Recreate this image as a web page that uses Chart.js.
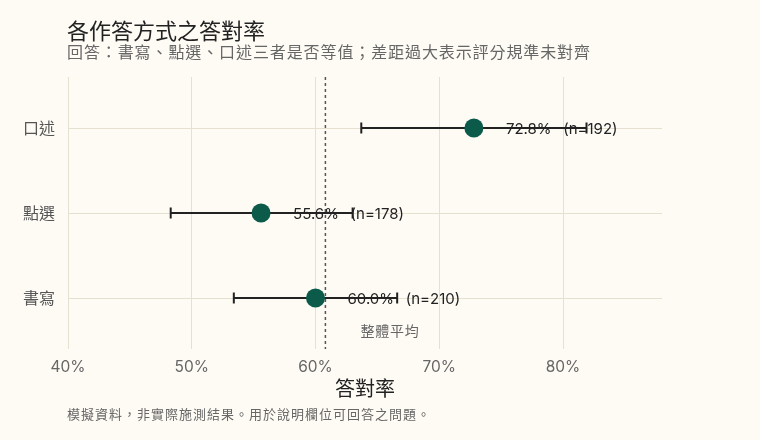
<!doctype html>
<html>
    <head>
        <meta charset="utf-8" />
        <title>各作答方式之答對率</title>
        <script src="https://cdn.jsdelivr.net/npm/chart.js"></script>
        <style>
            html,
            body {
                margin: 0;
                padding: 0;
                background: #fdfbf4;
            }
            .wrap {
                position: relative;
                width: 760px;
                height: 440px;
                font-family: Inter, "Noto Sans CJK TC", sans-serif;
            }
            .title {
                position: absolute;
                left: 67px;
                top: 13px;
                font-size: 22px;
                color: #222;
                font-family: "Noto Sans CJK TC", sans-serif;
            }
            .subtitle {
                position: absolute;
                left: 67px;
                top: 39px;
                font-size: 16px;
                letter-spacing: 0.9px;
                color: #666;
                font-family: "Noto Sans CJK TC", sans-serif;
                white-space: nowrap;
            }
            .note {
                position: absolute;
                left: 67px;
                top: 404px;
                font-size: 13px;
                letter-spacing: 1px;
                color: #666;
                font-family: "Noto Sans CJK TC", sans-serif;
                white-space: nowrap;
            }
            canvas {
                position: absolute;
                left: 0;
                top: 0;
            }
        </style>
    </head>
    <body>
        <div class="wrap">
            <canvas id="rateChart" width="760" height="440"></canvas>
            <div class="title">各作答方式之答對率</div>
            <div class="subtitle">回答：書寫、點選、口述三者是否等值；差距過大表示評分規準未對齊</div>
            <div class="note">模擬資料，非實際施測結果。用於說明欄位可回答之問題。</div>
        </div>
        <script>
            // categories top to bottom
            const categories = ["口述", "點選", "書寫"];
            const rates = [72.8, 55.6, 60.0];
            const lows = [63.7, 48.3, 53.4];
            const highs = [81.9, 63.0, 66.6];
            const counts = [192, 178, 210];
            const overallAvg = 60.8;
            const xTicks = [40, 50, 60, 70, 80];

            const FONT = 'Inter, "Noto Sans CJK TC", sans-serif';
            const CJK = '"Noto Sans CJK TC", sans-serif';

            // error bars, value labels and the average line
            const extras = {
                id: "extras",
                beforeDatasetsDraw(chart) {
                    const { ctx, chartArea } = chart;
                    const xs = chart.scales.x;
                    const ys = chart.scales.y;
                    ctx.save();

                    // overall average (dotted)
                    const ax = xs.getPixelForValue(overallAvg);
                    ctx.strokeStyle = "#555";
                    ctx.lineWidth = 1.5;
                    ctx.setLineDash([3, 3]);
                    ctx.beginPath();
                    ctx.moveTo(ax, chartArea.top);
                    ctx.lineTo(ax, chartArea.bottom);
                    ctx.stroke();
                    ctx.setLineDash([]);
                    ctx.fillStyle = "#666";
                    ctx.font = "14px " + CJK;
                    ctx.letterSpacing = "0.8px";
                    ctx.textAlign = "left";
                    ctx.textBaseline = "middle";
                    ctx.fillText("整體平均", ax + 35, ys.getPixelForValue(2.39));
                    ctx.letterSpacing = "0px";

                    // value labels
                    ctx.fillStyle = "#222";
                    ctx.font = "15px " + FONT;
                    categories.forEach((c, i) => {
                        const px = xs.getPixelForValue(rates[i]);
                        const py = ys.getPixelForValue(i);
                        ctx.fillText(
                            rates[i].toFixed(1) + "%\u2002 (n=" + counts[i] + ")",
                            px + 32,
                            py + 1,
                        );
                    });

                    // error bars
                    ctx.strokeStyle = "#222";
                    ctx.lineWidth = 2;
                    categories.forEach((c, i) => {
                        const x1 = xs.getPixelForValue(lows[i]);
                        const x2 = xs.getPixelForValue(highs[i]);
                        const py = ys.getPixelForValue(i);
                        ctx.beginPath();
                        ctx.moveTo(x1, py);
                        ctx.lineTo(x2, py);
                        ctx.moveTo(x1, py - 5.5);
                        ctx.lineTo(x1, py + 5.5);
                        ctx.moveTo(x2, py - 5.5);
                        ctx.lineTo(x2, py + 5.5);
                        ctx.stroke();
                    });
                    ctx.restore();
                },
            };

            const ctx = document.getElementById("rateChart").getContext("2d");
            const chart = new Chart(ctx, {
                type: "scatter",
                data: {
                    datasets: [
                        {
                            label: "答對率",
                            data: rates.map((r, i) => ({ x: r, y: i })),
                            backgroundColor: "#0b5a4a",
                            borderColor: "#0b5a4a",
                            pointRadius: 9.5,
                            pointHoverRadius: 9.5,
                            borderWidth: 0,
                        },
                    ],
                },
                options: {
                    responsive: false,
                    animation: false,
                    layout: {
                        padding: { left: 0, top: 77, right: 98, bottom: 0 },
                    },
                    plugins: {
                        legend: { display: false },
                        tooltip: { enabled: false },
                    },
                    scales: {
                        x: {
                            type: "linear",
                            min: 40,
                            max: 88,
                            afterFit(scale) {
                                scale.height = 91;
                            },
                            afterBuildTicks(scale) {
                                scale.ticks = xTicks.map((v) => ({ value: v }));
                            },
                            ticks: {
                                padding: 9,
                                color: "#666",
                                font: { family: FONT, size: 15.5 },
                                callback: (v) => v + "%",
                            },
                            grid: {
                                color: "#e6e0d1",
                                lineWidth: 1,
                                drawTicks: false,
                            },
                            border: { display: false },
                            title: {
                                display: true,
                                text: "答對率",
                                color: "#222",
                                font: { family: CJK, size: 20 },
                                padding: { top: 0, bottom: 40 },
                            },
                        },
                        y: {
                            type: "linear",
                            reverse: true,
                            min: -0.6,
                            max: 2.6,
                            afterFit(scale) {
                                scale.width = 68;
                            },
                            afterBuildTicks(scale) {
                                scale.ticks = categories.map((c, i) => ({
                                    value: i,
                                }));
                            },
                            ticks: {
                                padding: 13,
                                color: "#555",
                                font: { family: CJK, size: 16 },
                                callback: (v) => categories[v],
                            },
                            grid: {
                                color: "#e6e0d1",
                                lineWidth: 1,
                                drawTicks: false,
                            },
                            border: { display: false },
                        },
                    },
                },
                plugins: [extras],
            });
        </script>
    </body>
</html>
